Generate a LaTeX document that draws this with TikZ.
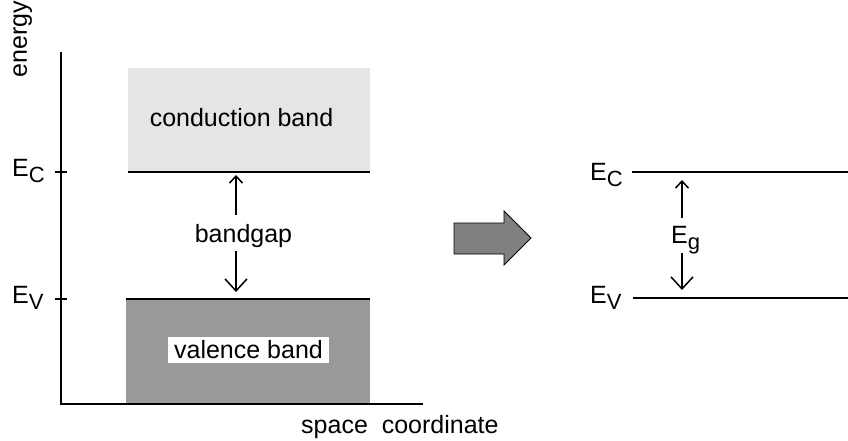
\documentclass[tikz,border=0pt]{standalone}
\usepackage{fontspec}
\setmainfont{Liberation Sans}
\usetikzlibrary{arrows.meta}
\definecolor{condgray}{HTML}{E5E5E5}
\definecolor{valgray}{HTML}{999999}
\definecolor{arrgray}{HTML}{808080}
\newcommand\Elab[1]{E\raisebox{-6pt}{\fontsize{22}{24}\selectfont #1}}
\tikzset{
  txt/.style={font=\fontsize{25}{29}\selectfont, inner sep=0pt},
  axisline/.style={line width=2pt},
  bandline/.style={line width=2.5pt},
  gapup/.style={line width=1.5pt, -{Straight Barb[length=7pt,width=13pt,line width=1.5pt]}},
  gapdown/.style={line width=1.5pt, -{Straight Barb[length=12pt,width=22pt,line width=1.5pt]}},
}
\begin{document}
\begin{tikzpicture}[x=1pt,y=-1pt]
\useasboundingbox (0,0) rectangle (848,441);
% bands
\fill[condgray] (128,68) rectangle (370,172);
\fill[valgray] (126,299) rectangle (370,404);
\coordinate (cL) at (128,172); \coordinate (cR) at (370,172);
\coordinate (vL) at (126,299); \coordinate (vR) at (370,299);
\draw[bandline] (cL) -- (cR);
\draw[bandline] (vL) -- (vR);
% axes
\coordinate (top) at (61,52); \coordinate (orig) at (61,404); \coordinate (xend) at (423,404);
\draw[axisline] (top) -- (orig) -- (xend);
\coordinate (tcA) at (55,172); \coordinate (tcB) at (67,172);
\coordinate (tvA) at (55,299); \coordinate (tvB) at (67,299);
\draw[axisline] (tcA) -- (tcB);
\draw[axisline] (tvA) -- (tvB);
% labels
\node[txt, rotate=90, anchor=base east] (energy) at (27,1) {energy};
\node[txt, anchor=base west] (ecl) at (12,176) {\Elab{C}};
\node[txt, anchor=base west] (evl) at (12,303) {\Elab{V}};
\node[txt, anchor=base] (cb) at (241.5,127) {conduction band};
\node[fill=white, minimum width=161pt, minimum height=26pt, inner sep=0pt] (vbox) at (248.5,350) {};
\node[txt, anchor=base] (vb) at (248.5,358) {valence band};
\node[txt, anchor=base west] (sc) at (301,433) {space\ \ coordinate};
% bandgap
\node[txt, anchor=base] (bg) at (243.5,242) {bandgap};
\coordinate (bgu0) at (236,215); \coordinate (bgu1) at (236,175);
\coordinate (bgd0) at (236,251); \coordinate (bgd1) at (236,292);
\draw[gapup] (bgu0) -- (bgu1);
\draw[gapdown] (bgd0) -- (bgd1);
% block arrow
\draw[fill=arrgray, line width=0.8pt, line join=miter] (454,223) -- (504,223) -- (504,211) -- (531,238) -- (504,265) -- (504,254) -- (454,254) -- cycle;
% right diagram
\coordinate (rcL) at (632,172); \coordinate (rcR) at (848,172);
\coordinate (rvL) at (633,298); \coordinate (rvR) at (848,298);
\draw[bandline] (rcL) -- (rcR);
\draw[bandline] (rvL) -- (rvR);
\node[txt, anchor=base west] (ecr) at (590,180) {\Elab{C}};
\node[txt, anchor=base west] (evr) at (590,303) {\Elab{V}};
\node[txt, anchor=base west] (eg) at (671,243) {\Elab{g}};
\coordinate (egu0) at (682,218); \coordinate (egu1) at (682,180);
\coordinate (egd0) at (682,253); \coordinate (egd1) at (682,290);
\draw[gapup] (egu0) -- (egu1);
\draw[gapdown] (egd0) -- (egd1);
\end{tikzpicture}
\end{document}
